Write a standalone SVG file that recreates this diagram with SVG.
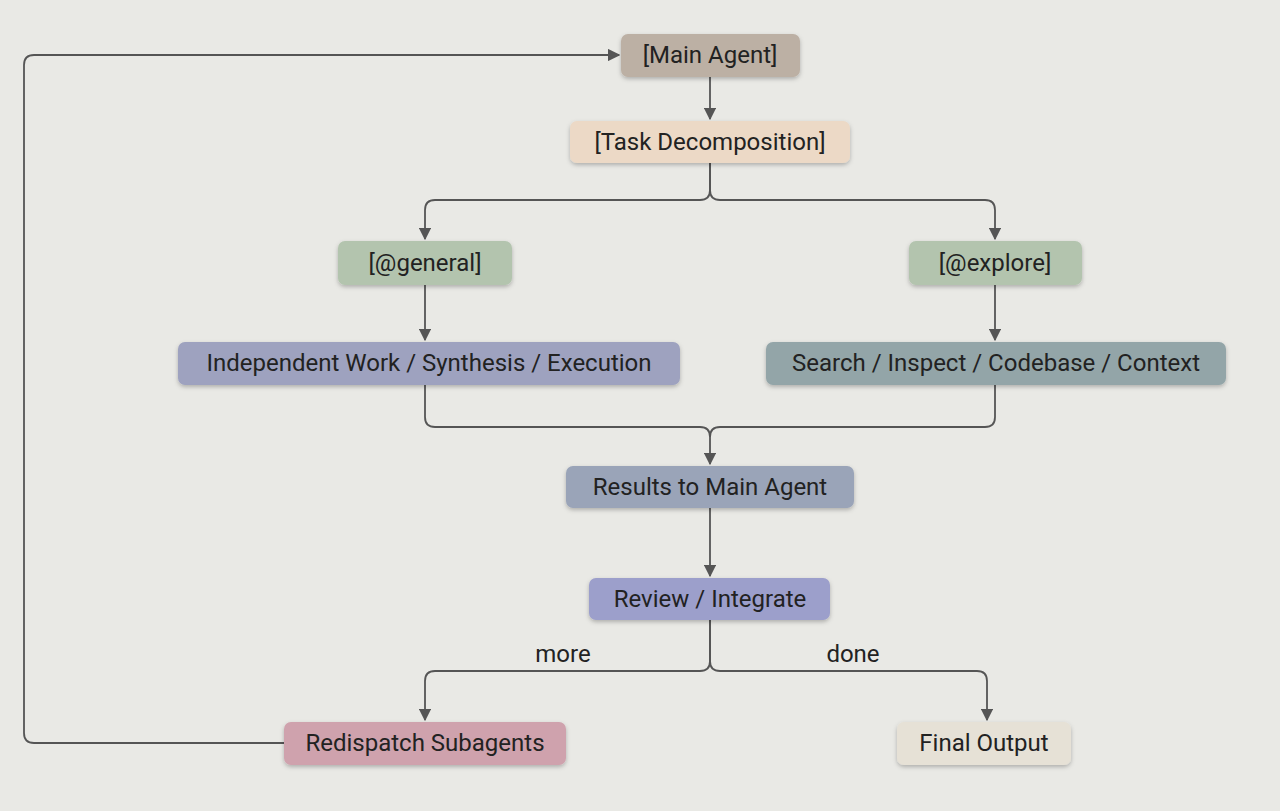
<svg xmlns="http://www.w3.org/2000/svg" width="1280" height="811" viewBox="0 0 1280 811">
<defs>
<marker id="ah" viewBox="0 0 10 10" refX="9" refY="5" markerWidth="7" markerHeight="7" orient="auto-start-reverse"><path d="M0,0 L10,5 L0,10 z" fill="#555"/></marker>
<filter id="sh" x="-10%" y="-20%" width="120%" height="150%"><feDropShadow dx="0" dy="2" stdDeviation="2" flood-color="#000" flood-opacity="0.25"/></filter>
</defs>
<style>
text{font-family:"Roboto","Liberation Sans",sans-serif;font-size:24px;fill:#222;text-anchor:middle;dominant-baseline:central}
.n rect{filter:url(#sh)}
.c path{fill:none;stroke:#555;stroke-width:1.8}
</style>
<rect width="1280" height="811" fill="#e9e9e5"/>
<g class="c">
<path d="M710,77 V119" marker-end="url(#ah)"/>
<path d="M710,163 V190 Q710,200 700,200 H435 Q425,200 425,210 V239" marker-end="url(#ah)"/>
<path d="M710,163 V190 Q710,200 720,200 H985 Q995,200 995,210 V239" marker-end="url(#ah)"/>
<path d="M425,285 V340" marker-end="url(#ah)"/>
<path d="M995,285 V340" marker-end="url(#ah)"/>
<path d="M425,385 V417 Q425,427 435,427 H700 Q710,427 710,437"/>
<path d="M995,385 V417 Q995,427 985,427 H720 Q710,427 710,437 V464" marker-end="url(#ah)"/>
<path d="M710,508 V576" marker-end="url(#ah)"/>
<path d="M710,620 V661 Q710,671 700,671 H435 Q425,671 425,681 V720" marker-end="url(#ah)"/>
<path d="M710,620 V661 Q710,671 720,671 H977 Q987,671 987,681 V720" marker-end="url(#ah)"/>
<path d="M284,743 H34 Q24,743 24,733 V65 Q24,55 34,55 H619" marker-end="url(#ah)"/>
</g>
<text x="563" y="654">more</text>
<text x="853" y="654">done</text>
<g class="n" id="main"><rect x="621" y="34" width="179" height="43" rx="7" fill="#bcb0a4"/><text x="710" y="55">[Main Agent]</text></g>
<g class="n" id="task"><rect x="570" y="121" width="280" height="42" rx="7" fill="#ecd9c6"/><text x="710" y="142">[Task Decomposition]</text></g>
<g class="n" id="general"><rect x="338" y="241" width="174" height="44" rx="7" fill="#b3c4ae"/><text x="425" y="263">[@general]</text></g>
<g class="n" id="explore"><rect x="909" y="241" width="173" height="44" rx="7" fill="#b3c4ae"/><text x="995" y="263">[@explore]</text></g>
<g class="n" id="indep"><rect x="178" y="342" width="502" height="43" rx="7" fill="#9ea2bf"/><text x="429" y="363">Independent Work / Synthesis / Execution</text></g>
<g class="n" id="search"><rect x="766" y="342" width="460" height="43" rx="7" fill="#93a5a8"/><text x="996" y="363">Search / Inspect / Codebase / Context</text></g>
<g class="n" id="results"><rect x="566" y="466" width="288" height="42" rx="7" fill="#9aa4b8"/><text x="710" y="487">Results to Main Agent</text></g>
<g class="n" id="review"><rect x="589" y="578" width="241" height="42" rx="7" fill="#9c9fcb"/><text x="710" y="599">Review / Integrate</text></g>
<g class="n" id="redispatch"><rect x="284" y="722" width="282" height="43" rx="7" fill="#cfa2ad"/><text x="425" y="743">Redispatch Subagents</text></g>
<g class="n" id="final"><rect x="897" y="722" width="174" height="43" rx="7" fill="#e6e1d6"/><text x="984" y="743">Final Output</text></g>
</svg>
